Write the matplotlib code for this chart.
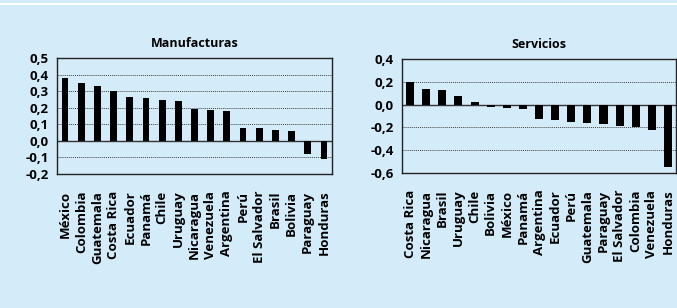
import matplotlib
matplotlib.use('Agg')
import matplotlib.pyplot as plt
from matplotlib.patches import Rectangle

# data
manuf_countries = ['México', 'Colombia', 'Guatemala', 'Costa Rica', 'Ecuador', 'Panamá',
                   'Chile', 'Uruguay', 'Nicaragua', 'Venezuela', 'Argentina', 'Perú',
                   'El Salvador', 'Brasil', 'Bolivia', 'Paraguay', 'Honduras']
manuf_values = [0.378, 0.348, 0.33, 0.30, 0.264, 0.258, 0.247, 0.24, 0.19, 0.185, 0.179,
                0.076, 0.076, 0.064, 0.058, -0.08, -0.11]

serv_countries = ['Costa Rica', 'Nicaragua', 'Brasil', 'Uruguay', 'Chile', 'Bolivia', 'México',
                  'Panamá', 'Argentina', 'Ecuador', 'Perú', 'Guatemala', 'Paraguay',
                  'El Salvador', 'Colombia', 'Venezuela', 'Honduras']
serv_values = [0.20, 0.137, 0.129, 0.076, 0.023, -0.02, -0.026, -0.038, -0.126, -0.134,
               -0.152, -0.16, -0.17, -0.187, -0.199, -0.222, -0.544]

manuf_ticks = [-0.2, -0.1, 0.0, 0.1, 0.2, 0.3, 0.4, 0.5]
serv_ticks = [-0.6, -0.4, -0.2, 0.0, 0.2, 0.4]

bg = '#d4ebfa'
plt.rcParams['font.family'] = ['Open Sans', 'DejaVu Sans']
plt.rcParams['font.weight'] = 'bold'

W, H = 677, 308
fig = plt.figure(figsize=(W / 100, H / 100), dpi=100, facecolor=bg)
# thin white strip at the very top
fig.patches.append(Rectangle((0, 1 - 5 / H), 1, 2 / H, transform=fig.transFigure,
                             facecolor='white', edgecolor='none'))


def px_axes(x0, y0, x1, y1):
    return fig.add_axes([x0 / W, 1 - y1 / H, (x1 - x0) / W, (y1 - y0) / H])


def draw(ax, names, vals, ticks, title, width):
    ax.set_facecolor(bg)
    x = list(range(len(names)))
    ax.bar(x, vals, width=width, color='black', zorder=3)
    ax.set_xlim(-0.5, len(names) - 0.5)
    ax.set_ylim(ticks[0], ticks[-1])
    ax.set_yticks(ticks)
    ax.set_yticklabels([('%.1f' % t).replace('.', ',') for t in ticks],
                       fontsize=9.5, fontweight='bold')
    for t in ticks[1:-1]:
        if abs(t) < 1e-9:
            ax.axhline(0, color='#333333', lw=1.0, zorder=2)
        else:
            ax.axhline(t, color='#444444', lw=0.7, ls=(0, (1, 1)), zorder=1)
    ax.set_xticks(x)
    ax.set_xticklabels(names, rotation=90, fontsize=9.5, fontweight='bold')
    ax.tick_params(axis='y', length=0, pad=6)
    ax.tick_params(axis='x', length=0, pad=12)
    for s in ax.spines.values():
        s.set_color('#222222')
        s.set_linewidth(1.0)
    ax.set_title(title, fontsize=9, fontweight='bold', pad=8)


ax1 = px_axes(57, 58, 332, 174)
draw(ax1, manuf_countries, manuf_values, manuf_ticks, 'Manufacturas', 0.42)
ax2 = px_axes(402, 59, 676, 173)
draw(ax2, serv_countries, serv_values, serv_ticks, 'Servicios', 0.5)

fig.savefig('out.png', dpi=100, facecolor=bg)
